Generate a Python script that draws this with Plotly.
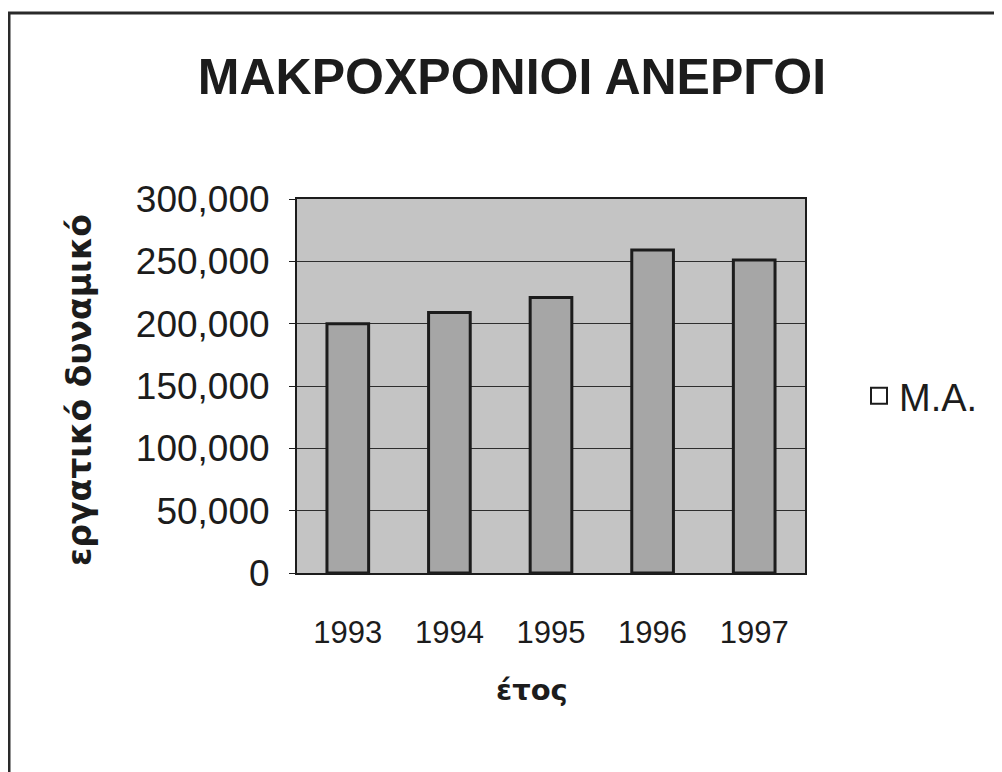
import plotly.graph_objects as go

# chart data
years = ["1993", "1994", "1995", "1996", "1997"]
long_term_unemployed = [200000, 209000, 221000, 259000, 251000]
series_name = "M.A."
y_ticks = [0, 50000, 100000, 150000, 200000, 250000, 300000]

title_text = "ΜΑΚΡΟΧΡΟΝΙΟΙ ΑΝΕΡΓΟΙ"
x_title = "έτος"
y_title = "εργατικό δυναμικό"

ink = "#1c1c1c"

# the page body adds an 8px offset, margins are set to compensate
PAD = 8
PLOT_L, PLOT_T, PLOT_W, PLOT_H = 297 - PAD, 199 - PAD, 508, 374


def px_x(px):
    return (px - PAD - PLOT_L) / PLOT_W


def px_y(py):
    return (PLOT_T + PLOT_H - (py - PAD)) / PLOT_H


fig = go.Figure()
fig.add_trace(go.Bar(
    x=years,
    y=long_term_unemployed,
    width=0.41,
    marker=dict(color="#a6a6a6", line=dict(color=ink, width=3)),
    showlegend=False,
    name=series_name,
))
# legend entry (white box like the original)
fig.add_trace(go.Scatter(
    x=[years[0]], y=[None],
    mode="markers",
    marker=dict(symbol="square", size=16, color="white", line=dict(color=ink, width=2)),
    name=series_name,
    showlegend=True,
))

fig.update_layout(
    width=1002, height=772,
    margin=dict(l=PLOT_L, r=1002 - PLOT_L - PLOT_W, t=PLOT_T, b=772 - PLOT_T - PLOT_H),
    paper_bgcolor="white",
    plot_bgcolor="#c4c4c4",
    font=dict(family="Liberation Sans, Arial, sans-serif", color=ink),
    title=dict(
        text=title_text,
        x=(512 - PAD) / 1002, xanchor="center",
        y=1 - (76 - PAD) / 772, yanchor="middle",
        font=dict(size=50, family="Liberation Sans, Arial, sans-serif", weight="bold", color=ink),
    ),
    legend=dict(
        x=px_x(859), y=px_y(396), xanchor="left", yanchor="middle",
        font=dict(size=38, color=ink),
        itemsizing="trace",
        bgcolor="rgba(0,0,0,0)",
    ),
    xaxis=dict(
        type="category",
        showgrid=False,
        showline=True, linecolor=ink, linewidth=2, mirror=True,
        ticks="",
        tickfont=dict(size=31),
        ticklabelstandoff=31,
    ),
    yaxis=dict(
        range=[0, 300000],
        tickvals=y_ticks,
        tickformat=",",
        showgrid=True, gridcolor="#2e2e2e", gridwidth=1.2,
        showline=True, linecolor=ink, linewidth=2, mirror=True,
        ticks="outside", ticklen=6, tickcolor=ink,
        tickfont=dict(size=37),
        ticklabelstandoff=12,
        zeroline=False,
    ),
)

# axis titles placed like the original chart
fig.add_annotation(
    text=y_title, xref="paper", yref="paper",
    x=px_x(79), y=px_y(390), xanchor="center", yanchor="middle",
    textangle=-90, showarrow=False,
    font=dict(size=33, family="DejaVu Sans", weight="bold", color=ink),
)
fig.add_annotation(
    text=x_title, xref="paper", yref="paper",
    x=px_x(532), y=px_y(690), xanchor="center", yanchor="middle",
    showarrow=False,
    font=dict(size=29, family="DejaVu Sans", weight="bold", color=ink),
)

# outer chart frame (right and bottom edges are cut off in the scan)
fig.add_shape(
    type="rect", xref="paper", yref="paper",
    x0=px_x(9), x1=px_x(1020),
    y0=px_y(790), y1=px_y(13),
    line=dict(color="#2a2a2a", width=3),
    fillcolor="rgba(0,0,0,0)",
    layer="below",
)

fig.write_html("out.html")
